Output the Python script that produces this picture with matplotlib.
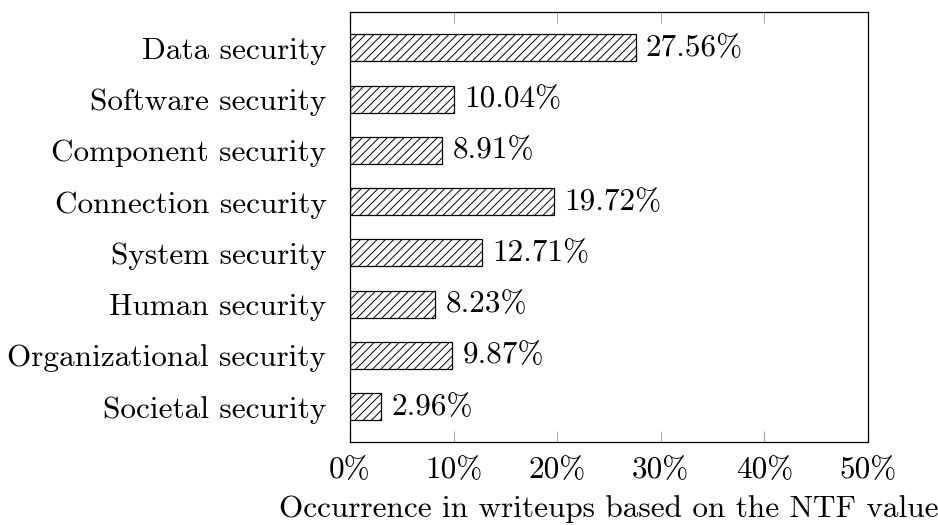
import matplotlib.pyplot as plt
import numpy as np

plt.rcParams['font.family'] = ['cmr10', 'DejaVu Serif']
plt.rcParams['mathtext.fontset'] = 'cm'
plt.rcParams['axes.formatter.use_mathtext'] = True
plt.rcParams['hatch.linewidth'] = 0.7

categories = ["Data security", "Software security", "Component security",
              "Connection security", "System security", "Human security",
              "Organizational security", "Societal security"]
values = [27.56, 10.04, 8.91, 19.72, 12.71, 8.23, 9.87, 2.96]
xticks = [0, 10, 20, 30, 40, 50]
xtick_labels = ["0%", "10%", "20%", "30%", "40%", "50%"]

fs = 22.5
fig = plt.figure(figsize=(9.38, 5.25), dpi=100)
ax = fig.add_axes([350/938, 1 - 442/525, (868-350)/938, (442-12)/525])

y = np.arange(len(categories))[::-1]
ax.barh(y, values, height=0.527, color='white', edgecolor='black',
        hatch='////', linewidth=0.9)

for yi, v in zip(y, values):
    ax.text(v + 1.0, yi, f"{v:.2f}%", va='center', ha='left', fontsize=fs)

ax.set_xlim(0, 50)
ax.set_ylim(-0.69, 7.70)
ax.set_yticks(y)
ax.set_yticklabels(categories, fontsize=fs)
ax.set_xticks(xticks)
ax.set_xticklabels(xtick_labels, fontsize=fs)
ax.tick_params(axis='y', length=0, pad=17)
ax.tick_params(axis='x', direction='in', length=8, width=0.8, color='#aaaaaa',
               top=True, pad=10)
for s in ax.spines.values():
    s.set_linewidth(0.9)
ax.set_xlabel("Occurrence in writeups based on the NTF value", fontsize=fs,
              labelpad=8)

fig.savefig("out.png", dpi=100)
